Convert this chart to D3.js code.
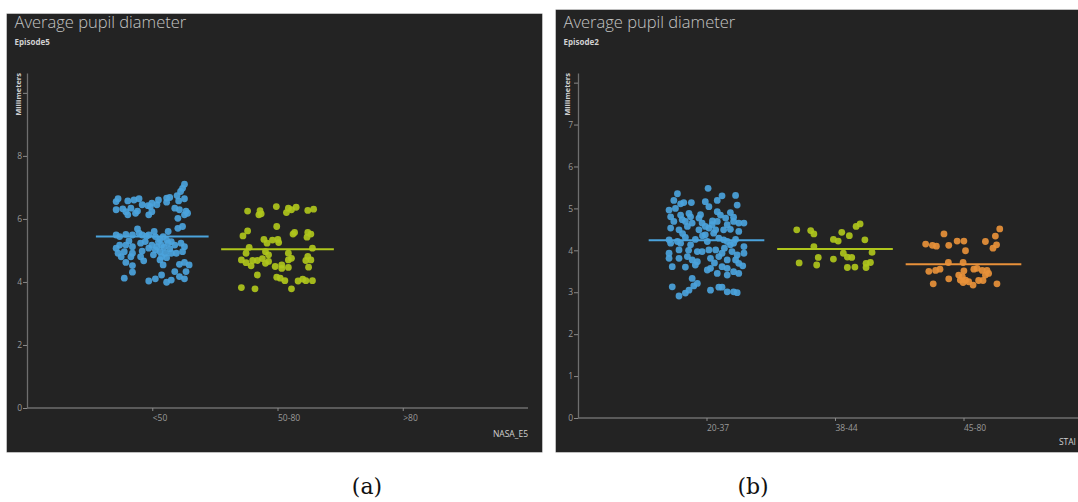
<!DOCTYPE html>
<html><head><meta charset="utf-8">
<script src="https://cdn.jsdelivr.net/npm/d3@7"></script>
<style>html,body{margin:0;padding:0;background:#fff;overflow:hidden}svg{display:block}</style>
</head><body>
<svg id="chart" width="1078" height="502"></svg>
<script>
// ---------- DATA ----------
const titleText = "Average pupil diameter";
const yAxisLabel = "Millimeters";

// Panel (a)
const episodeA = "Episode5";
const categoriesA = ["<50", "50-80", ">80"];
const xAxisLabelA = "NASA_E5";
const yTicksA = [0, 2, 4, 6, 8, 10];
const meansA = [5.44, 5.04, null];
// [jitter (-1..1), millimeters]
const pointsA_lt50 = [
 [0.83,7.10],[0.78,6.97],[0.73,6.87],[0.64,6.74],[0.83,6.64],[0.68,6.57],[0.45,6.68],[0.37,6.66],[0.16,6.60],[-0.01,6.50],
 [-0.11,6.42],[-0.26,6.45],[-0.34,6.64],[-0.47,6.60],[-0.63,6.57],[-0.88,6.64],[-0.93,6.55],[-0.93,6.29],[-0.76,6.32],[-0.68,6.23],
 [-0.55,6.34],[-0.63,6.13],[-0.43,6.18],[-0.38,6.25],[-0.05,6.39],[0.12,6.45],[0.37,6.53],[0.58,6.34],[0.70,6.29],[0.87,6.25],
 [0.91,6.18],[0.83,6.13],[0.66,6.02],[-0.09,6.13],[-0.01,6.23],[0.78,5.76],[0.66,5.70],[-0.93,5.49],[-0.84,5.44],[-0.68,5.51],
 [-0.51,5.49],[-0.38,5.68],[-0.34,5.55],[-0.26,5.49],[-0.09,5.49],[0.08,5.44],[0.28,5.44],[0.41,5.60],[0.37,5.33],[0.16,5.28],
 [0.24,5.17],[0.41,5.23],[0.49,5.28],[0.58,5.17],[0.74,5.23],[0.83,5.12],[0.12,5.12],[-0.01,5.17],[-0.18,5.28],[-0.30,5.23],
 [-0.51,5.12],[-0.68,5.17],[-0.84,5.17],[-0.93,5.07],[-0.88,4.91],[-0.72,4.96],[-0.51,4.91],[-0.26,4.98],[-0.09,5.07],[0.08,5.02],
 [0.20,4.96],[0.33,4.91],[0.49,4.91],[0.62,4.91],[0.78,4.96],[-0.80,4.80],[-0.55,4.80],[-0.30,4.80],[0.03,4.86],[0.24,4.80],
 [0.37,4.77],[-0.68,4.62],[-0.51,4.52],[-0.22,4.67],[0.20,4.70],[0.28,4.54],[0.83,4.62],[0.95,4.54],[0.70,4.56],[0.87,4.33],
 [0.58,4.33],[0.24,4.22],[0.08,4.10],[-0.09,4.03],[0.37,3.99],[0.49,4.06],[0.70,4.17],[0.83,4.10],[-0.72,4.12],[-0.51,4.31],
 [0.20,5.35],[0.30,5.10],[-0.60,5.30],[0.05,5.60],[0.45,5.05],[-0.15,5.45]
];
const pointsA_50to80 = [
 [-0.77,6.25],[-0.45,6.26],[-0.42,6.16],[-0.48,6.13],[-0.03,6.39],[0.28,6.34],[0.23,6.20],[0.36,6.29],[0.48,6.37],[0.78,6.27],
 [0.93,6.31],[-0.02,5.76],[0.44,5.57],[0.40,5.52],[-0.77,5.62],[-0.89,5.46],[-0.35,5.35],[-0.27,5.23],[-0.13,5.33],[0.01,5.35],
 [0.03,5.25],[0.78,5.57],[0.86,5.52],[0.76,5.42],[-0.73,5.10],[0.90,5.07],[-0.81,4.91],[-0.31,4.96],[-0.23,4.86],[0.28,4.91],
 [0.36,4.75],[0.28,4.70],[-0.93,4.70],[-0.81,4.61],[-0.64,4.68],[-0.52,4.68],[-0.39,4.74],[-0.31,4.59],[-0.23,4.65],[-0.68,4.51],
 [-0.06,4.49],[0.11,4.54],[0.11,4.43],[0.28,4.46],[0.73,4.68],[0.86,4.70],[0.78,4.81],[0.80,4.47],[-0.52,4.22],[-0.02,4.15],
 [0.07,4.12],[0.19,4.04],[0.53,4.03],[0.65,4.09],[0.73,4.04],[0.90,4.04],[-0.93,3.82],[-0.58,3.78],[0.36,3.78]
];
const pointsA_gt80 = [];

// Panel (b)
const episodeB = "Episode2";
const categoriesB = ["20-37", "38-44", "45-80"];
const xAxisLabelB = "STAI";
const yTicksB = [0, 1, 2, 3, 4, 5, 6, 7, 8];
const meansB = [4.24, 4.03, 3.67];
const pointsB_20to37 = [
 [0.04,5.48],[-0.73,5.35],[0.73,5.31],[0.39,5.30],[-0.03,5.16],[0.27,5.19],[-0.82,5.19],[-0.57,5.14],[-0.38,5.14],[-0.65,5.11],
 [0.77,5.08],[-0.94,4.96],[-0.78,5.00],[-0.44,4.88],[0.06,5.04],[0.27,4.92],[0.35,4.84],[-0.90,4.80],[-0.65,4.84],[-0.40,4.80],
 [-0.19,4.77],[0.48,4.77],[0.68,4.79],[-0.82,4.69],[-0.61,4.73],[-0.53,4.69],[-0.36,4.65],[-0.11,4.65],[-0.03,4.57],[0.14,4.61],
 [0.27,4.69],[0.52,4.61],[0.68,4.69],[0.81,4.65],[0.94,4.65],[-0.90,4.53],[-0.69,4.49],[-0.48,4.57],[-0.19,4.49],[0.06,4.53],
 [0.23,4.49],[0.43,4.49],[0.60,4.50],[0.81,4.45],[-0.94,4.25],[-0.73,4.21],[-0.53,4.31],[-0.28,4.26],[-0.03,4.37],[0.18,4.41],
 [0.31,4.29],[0.43,4.25],[0.52,4.21],[0.73,4.26],[-0.90,4.17],[-0.65,4.17],[0.02,4.21],[0.60,4.13],[0.68,4.17],[0.94,4.09],
 [-0.94,3.93],[-0.69,4.01],[-0.40,4.13],[-0.23,3.97],[-0.11,3.97],[0.06,4.01],[0.23,4.01],[0.39,3.93],[0.64,3.97],[0.77,3.89],
 [0.94,3.93],[-0.94,3.81],[-0.69,3.81],[-0.48,3.85],[-0.36,3.77],[-0.23,3.73],[0.10,3.81],[0.31,3.85],[0.52,3.77],[0.73,3.77],
 [0.81,3.69],[-0.86,3.61],[-0.53,3.60],[-0.28,3.65],[0.02,3.53],[0.10,3.57],[0.39,3.61],[0.52,3.57],[0.81,3.45],[0.91,3.63],
 [0.27,3.45],[0.52,3.41],[0.68,3.49],[-0.36,3.33],[-0.23,3.21],[-0.32,3.15],[-0.44,3.05],[-0.86,3.13],[-0.69,2.91],[-0.53,2.98],
 [0.10,3.05],[0.31,3.12],[0.39,3.12],[0.52,3.01],[0.68,3.01],[0.77,2.99],
 [-0.10,4.35],[0.15,4.70],[-0.60,4.40],[0.45,4.05],[-0.15,4.85],[0.60,4.90],[-0.45,4.00],[0.20,3.70]
];
const pointsB_38to44 = [
 [-0.96,4.49],[-0.61,4.47],[-0.53,4.39],[0.17,4.43],[-0.04,4.26],[0.08,4.22],[0.36,4.35],[0.53,4.57],[0.63,4.63],[-0.53,4.09],
 [-0.42,3.83],[-0.46,3.65],[-0.04,3.79],[0.21,3.93],[0.31,3.84],[0.42,3.83],[0.31,3.59],[0.50,3.60],[0.75,4.25],[0.93,3.95],
 [0.78,3.69],[0.89,3.71],[0.78,3.59],[-0.90,3.70]
];
const pointsB_45to80 = [
 [0.91,4.51],[0.80,4.34],[-0.49,4.39],[-0.95,4.15],[-0.78,4.12],[-0.68,4.10],[-0.37,4.12],[-0.16,4.22],[0.01,4.22],[0.55,4.21],
 [0.83,4.13],[0.74,4.05],[0.05,3.99],[-0.38,3.71],[-0.01,3.71],[-0.87,3.50],[-0.70,3.52],[-0.59,3.55],[0.01,3.51],[0.26,3.55],
 [0.34,3.57],[0.47,3.52],[0.59,3.52],[0.63,3.45],[0.55,3.41],[-0.12,3.41],[-0.03,3.37],[-0.08,3.29],[0.05,3.29],[-0.01,3.23],
 [0.13,3.25],[0.24,3.17],[-0.37,3.32],[-0.76,3.20],[0.38,3.28],[0.49,3.28],[0.84,3.20]
];

const seriesColors = ["#4ba3dc", "#afc61c", "#e8913a"];

// ---------- DRAW ----------
const svg = d3.select("#chart");

function panel(cfg) {
  const g = svg.append("g");
  const clipId = "clip" + cfg.id;
  svg.append("defs").append("clipPath").attr("id", clipId)
    .append("rect").attr("x", cfg.box[0]).attr("y", cfg.box[1]).attr("width", cfg.box[2]).attr("height", cfg.box[3]);
  g.attr("clip-path", `url(#${clipId})`);
  g.append("rect").attr("x", cfg.box[0]).attr("y", cfg.box[1]).attr("width", cfg.box[2]).attr("height", cfg.box[3])
    .attr("fill", "#232323").attr("stroke", "#b5b5b5").attr("stroke-width", 1);

  const x = d3.scalePoint().domain(cfg.categories).range(cfg.xRange).padding(1);
  const y = d3.scaleLinear().domain(cfg.yDomain).range(cfg.yRange);
  const step = x.step();
  const jit = d3.scaleLinear().domain([-1, 1]).range([-0.31 * step, 0.31 * step]);

  // title
  g.append("text").attr("x", cfg.box[0] + 8).attr("y", 28).text(titleText)
    .attr("font-family", "'Open Sans', 'Noto Sans', sans-serif").attr("font-weight", 300)
    .attr("font-size", 16.5).attr("fill", "#c4c4c4");
  g.append("text").attr("x", cfg.box[0] + 8).attr("y", 45).text(cfg.episode)
    .attr("font-family", "'Open Sans', 'Noto Sans', sans-serif").attr("font-weight", 700)
    .attr("font-size", 8).attr("fill", "#d0d0d0");
  g.append("text").attr("transform", `translate(${cfg.box[0] + 14},73) rotate(-90)`)
    .attr("text-anchor", "end").text(yAxisLabel)
    .attr("font-family", "'Open Sans', 'Noto Sans', sans-serif").attr("font-weight", 700)
    .attr("font-size", 7.5).attr("fill", "#d0d0d0");

  // y axis
  const yAx = g.append("g").attr("transform", `translate(${cfg.xRange[0]},0)`)
    .call(d3.axisLeft(y).tickValues(cfg.yTicks).tickSize(4).tickSizeOuter(0)
      .tickFormat(d => cfg.hideTicks.includes(d) ? "" : d3.format("d")(d)));
  yAx.select(".domain").attr("stroke", "#6e6e6e").attr("stroke-width", 1.3);
  yAx.selectAll(".tick line").attr("stroke", "#8a8a8a");
  yAx.selectAll(".tick text").attr("fill", "#9a9a9a").attr("font-size", 8.5)
    .attr("font-family", "'Open Sans', 'Noto Sans', sans-serif").attr("x", -5);

  // x axis
  const xAx = g.append("g").attr("transform", `translate(0,${cfg.yRange[0]})`)
    .call(d3.axisBottom(x).tickSize(3).tickSizeOuter(0));
  xAx.select(".domain").attr("stroke", "#6e6e6e").attr("stroke-width", 1.3)
    .attr("d", `M${cfg.xRange[0]},0H${cfg.xAxisEnd}`);
  xAx.selectAll(".tick line").attr("stroke", "#8a8a8a");
  xAx.selectAll(".tick text").attr("fill", "#9a9a9a").attr("font-size", 8.5)
    .attr("font-family", "'Open Sans', 'Noto Sans', sans-serif")
    .attr("text-anchor", "start").attr("dy", "0.71em").attr("y", 7);
  g.append("text").attr("x", cfg.xLabelPos[0]).attr("y", cfg.xLabelPos[1]).text(cfg.xLabel)
    .attr("text-anchor", cfg.xLabelAnchor)
    .attr("font-family", "'Open Sans', 'Noto Sans', sans-serif").attr("font-size", 8.5).attr("fill", "#d0d0d0");

  // dots
  cfg.series.forEach((pts, i) => {
    const cx = x(cfg.categories[i]);
    g.append("g").selectAll("circle").data(pts).join("circle")
      .attr("cx", d => cx + jit(d[0])).attr("cy", d => y(d[1])).attr("r", 3.4)
      .attr("fill", seriesColors[i]).attr("fill-opacity", 0.92);
  });
  // mean lines
  cfg.means.forEach((m, i) => {
    if (m == null) return;
    const cx = x(cfg.categories[i]);
    g.append("line").attr("x1", cx - 0.45 * step).attr("x2", cx + 0.45 * step)
      .attr("y1", y(m)).attr("y2", y(m)).attr("stroke", seriesColors[i]).attr("stroke-width", 2);
  });
}

panel({
  id: "a", box: [6.5, 13.5, 536, 439], episode: episodeA, categories: categoriesA,
  xRange: [27, 528], xAxisEnd: 528, yDomain: [0, 10.63], yRange: [408, 73], yTicks: yTicksA, hideTicks: [10],
  xLabel: xAxisLabelA, xLabelPos: [528, 437], xLabelAnchor: "end",
  series: [pointsA_lt50, pointsA_50to80, pointsA_gt80], means: meansA
});
panel({
  id: "b", box: [555.5, 9.5, 530, 443], episode: episodeB, categories: categoriesB,
  xRange: [578, 1092], xAxisEnd: 1092, yDomain: [0, 8.23], yRange: [418, 73], yTicks: yTicksB, hideTicks: [8],
  xLabel: xAxisLabelB, xLabelPos: [1076, 445], xLabelAnchor: "end",
  series: [pointsB_20to37, pointsB_38to44, pointsB_45to80], means: meansB
});

// captions
svg.append("text").attr("x", 367).attr("y", 494).attr("text-anchor", "middle").text("(a)")
  .attr("font-family", "'DejaVu Serif', 'Liberation Serif', serif").attr("font-size", 22).attr("fill", "#111");
svg.append("text").attr("x", 753).attr("y", 494).attr("text-anchor", "middle").text("(b)")
  .attr("font-family", "'DejaVu Serif', 'Liberation Serif', serif").attr("font-size", 22).attr("fill", "#111");
</script>
</body></html>
